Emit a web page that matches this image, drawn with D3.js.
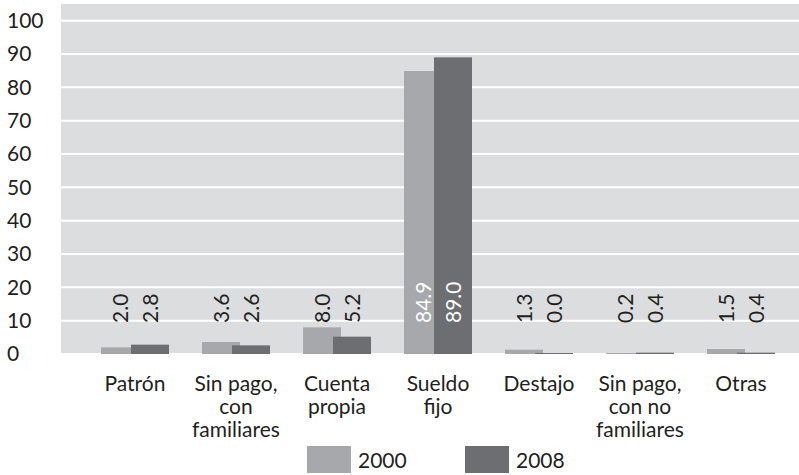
<!DOCTYPE html>
<html>
<head>
<meta charset="utf-8">
<script src="https://cdn.jsdelivr.net/npm/d3@7"></script>
<style>
  body { margin: 0; background: #fff; }
  text { font-family: Lato, "Open Sans", sans-serif; fill: #231f20; }
</style>
</head>
<body>
<script>
// Data
var categories = ["Patrón", "Sin pago, con familiares", "Cuenta propia", "Sueldo fijo", "Destajo", "Sin pago, con no familiares", "Otras"];
var catLines = [["Patrón"], ["Sin pago,", "con", "familiares"], ["Cuenta", "propia"], ["Sueldo", "fijo"], ["Destajo"], ["Sin pago,", "con no", "familiares"], ["Otras"]];
var series = ["2000", "2008"];
var values2000 = [2.0, 3.6, 8.0, 84.9, 1.3, 0.2, 1.5];
var values2008 = [2.8, 2.6, 5.2, 89.0, 0.0, 0.4, 0.4];
var yTicks = [0, 10, 20, 30, 40, 50, 60, 70, 80, 90, 100];

var svgWidth = 799, svgHeight = 475;
var colors = { "2000": "#a7a8ab", "2008": "#6d6e71" };
var fontSize = "21px";

var svg = d3.select("body").append("svg")
  .attr("width", svgWidth)
  .attr("height", svgHeight);

// Scales
var x = d3.scaleBand().domain(categories).range([84.5, 791.5]);
var xs = d3.scalePoint().domain(series).range([-15, 15]);
var barWidth = 38;
var y = d3.scaleLinear().domain([0, 100]).range([354, 20.7]);

// Plot background
svg.append("rect")
  .attr("x", 61).attr("y", 4)
  .attr("width", svgWidth - 61).attr("height", 349)
  .attr("fill", "#dcdddf");

// Gridlines
svg.append("g").selectAll("line")
  .data(yTicks.filter(d => d > 0))
  .enter().append("line")
  .attr("x1", 61).attr("x2", svgWidth)
  .attr("y1", d => y(d)).attr("y2", d => y(d))
  .attr("stroke", "#fff").attr("stroke-width", 2);

// Y axis labels
var yAxis = svg.append("g")
  .call(d3.axisLeft(y).tickValues(yTicks).tickSize(0).tickPadding(0));
yAxis.select(".domain").remove();
yAxis.selectAll("text")
  .attr("x", 7)
  .attr("text-anchor", "start")
  .style("font-size", fontSize)
  .style("font-family", "Lato, 'Open Sans', sans-serif")
  .attr("fill", "#231f20");

// Bars
var table = categories.map((c, i) => ({ cat: c, "2000": values2000[i], "2008": values2008[i] }));

series.forEach(function(s) {
  svg.append("g").selectAll("rect")
    .data(table)
    .enter().append("rect")
    .attr("x", d => x(d.cat) + x.bandwidth() / 2 + xs(s) - barWidth / 2)
    .attr("y", d => Math.min(y(d[s]), y(0) - 1))
    .attr("width", barWidth)
    .attr("height", d => Math.max(1, y(0) - y(d[s])))
    .attr("fill", colors[s]);
});

// Value labels (rotated)
series.forEach(function(s) {
  svg.append("g").selectAll("text")
    .data(table)
    .enter().append("text")
    .attr("transform", d => `translate(${x(d.cat) + x.bandwidth() / 2 + xs(s)}, 323) rotate(-90)`)
    .attr("dy", "0.36em")
    .attr("text-anchor", "start")
    .style("font-size", fontSize)
    .style("fill", d => d[s] > 20 ? "#fff" : "#231f20")
    .text(d => d[s].toFixed(1));
});

// Category labels
var catG = svg.append("g").selectAll("text")
  .data(categories)
  .enter().append("text")
  .attr("x", d => x(d) + x.bandwidth() / 2)
  .attr("y", 391)
  .attr("text-anchor", "middle")
  .style("font-size", fontSize);
catG.selectAll("tspan")
  .data((d, i) => catLines[i])
  .enter().append("tspan")
  .attr("x", function() { return this.parentNode.getAttribute("x"); })
  .attr("dy", (d, i) => i === 0 ? 0 : 23)
  .text(d => d);

// Legend
var legendX = [307, 465];
series.forEach(function(s, i) {
  svg.append("rect")
    .attr("x", legendX[i]).attr("y", 446)
    .attr("width", 44).attr("height", 27)
    .attr("fill", colors[s]);
  svg.append("text")
    .attr("x", legendX[i] + 51).attr("y", 468)
    .style("font-size", fontSize)
    .text(s);
});
</script>
</body>
</html>
